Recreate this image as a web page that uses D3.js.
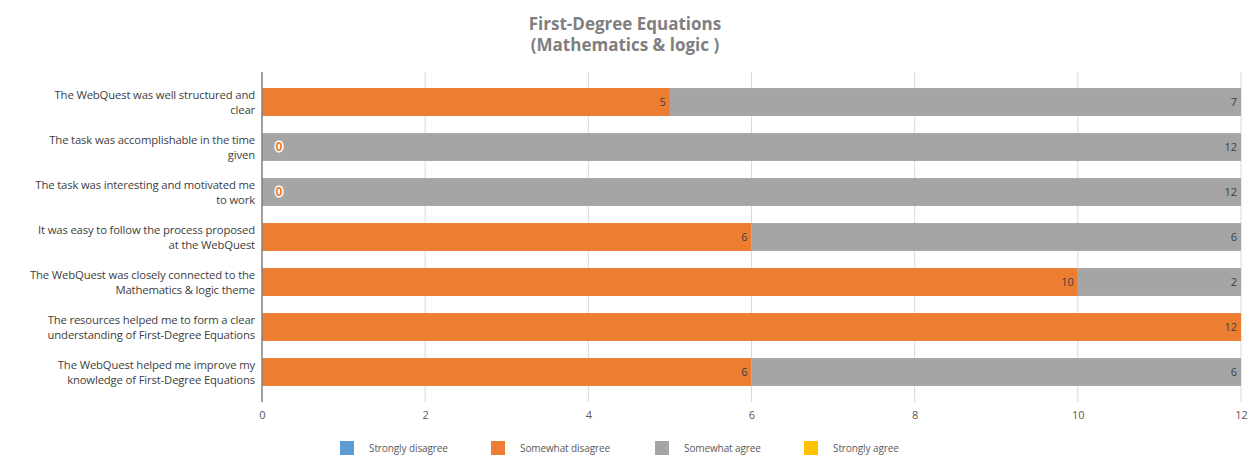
<!DOCTYPE html>
<html>
<head>
<meta charset="utf-8">
<script src="https://cdn.jsdelivr.net/npm/d3@7"></script>
<style>
  body { margin: 0; background: #fff; }
  svg text { font-family: "Open Sans", "Liberation Sans", sans-serif; }
</style>
</head>
<body>
<div id="chart"></div>
<script>
const categories = [
  ["The WebQuest was well structured and", "clear"],
  ["The task was accomplishable in the time", "given"],
  ["The task was interesting and motivated me", "to work"],
  ["It was easy to follow the process proposed", "at the WebQuest"],
  ["The WebQuest was closely connected to the", "Mathematics & logic theme"],
  ["The resources helped me to form a clear", "understanding of First-Degree Equations"],
  ["The WebQuest helped me improve my", "knowledge of First-Degree Equations"]
];
const seriesNames = ["Strongly disagree", "Somewhat disagree", "Somewhat agree", "Strongly agree"];
const stronglyDisagree = [0, 0, 0, 0, 0, 0, 0];
const somewhatDisagree = [5, 0, 0, 6, 10, 12, 6];
const somewhatAgree = [7, 12, 12, 6, 2, 0, 6];
const stronglyAgree = [0, 0, 0, 0, 0, 0, 0];
const xTicks = [0, 2, 4, 6, 8, 10, 12];

const colors = ["#5B9BD5", "#ED7D31", "#A5A5A5", "#FFC000"];

const width = 1248, height = 456;
const svg = d3.select("#chart").append("svg")
  .attr("width", width).attr("height", height);

const rows = categories.map((c, i) => ({
  key: i,
  "Strongly disagree": stronglyDisagree[i],
  "Somewhat disagree": somewhatDisagree[i],
  "Somewhat agree": somewhatAgree[i],
  "Strongly agree": stronglyAgree[i]
}));

const x = d3.scaleLinear().domain([0, 12]).range([262, 1241]);
const y = d3.scaleBand().domain(d3.range(categories.length))
  .range([79.5, 394.5]).paddingInner(0.38).paddingOuter(0.19);

// title
svg.append("text")
  .attr("x", 625).attr("y", 0)
  .attr("text-anchor", "middle")
  .attr("font-size", 17).attr("font-weight", "bold").attr("fill", "#7f7f7f")
  .selectAll("tspan")
  .data(["First-Degree Equations", "(Mathematics & logic )"])
  .join("tspan")
  .attr("x", 625)
  .attr("y", (d, i) => 30 + i * 21)
  .text(d => d);

// gridlines
svg.append("g").selectAll("line")
  .data(xTicks.slice(1))
  .join("line")
  .attr("x1", d => x(d)).attr("x2", d => x(d))
  .attr("y1", 72).attr("y2", 402)
  .attr("stroke", "#d9d9d9").attr("stroke-width", 1);

// stacked bars
const stack = d3.stack().keys(seriesNames)(rows);
svg.append("g").selectAll("g")
  .data(stack)
  .join("g")
  .attr("fill", (d, i) => colors[i])
  .selectAll("rect")
  .data(d => d)
  .join("rect")
  .attr("x", d => x(d[0]))
  .attr("y", (d, i) => y(i))
  .attr("width", d => x(d[1]) - x(d[0]))
  .attr("height", y.bandwidth());

// value labels (only the two series that have data)
const labelled = stack.filter(s => s.key === "Somewhat disagree" || s.key === "Somewhat agree");
labelled.forEach(s => {
  s.forEach((d, i) => {
    const v = d[1] - d[0];
    const cy = y(i) + y.bandwidth() / 2;
    if (v > 0) {
      svg.append("text")
        .attr("x", x(d[1]) - 4).attr("y", cy)
        .attr("dy", "0.35em").attr("text-anchor", "end")
        .attr("font-size", 11).attr("fill", "#404040")
        .text(v);
    } else if (s.key === "Somewhat disagree") {
      svg.append("text")
        .attr("x", x(d[0]) + 17).attr("y", cy)
        .attr("dy", "0.35em").attr("text-anchor", "middle")
        .attr("font-size", 12).attr("font-weight", "bold")
        .attr("fill", "#ED7D31")
        .attr("stroke", "#fff").attr("stroke-width", 3)
        .attr("paint-order", "stroke")
        .text(v);
    }
  });
});

// y axis line
svg.append("line")
  .attr("x1", x(0)).attr("x2", x(0))
  .attr("y1", 72).attr("y2", 402)
  .attr("stroke", "#7f7f7f").attr("stroke-width", 1.5);

// category labels
svg.append("g").selectAll("text")
  .data(categories)
  .join("text")
  .attr("text-anchor", "end")
  .attr("font-size", 11.3).attr("fill", "#404040")
  .attr("letter-spacing", -0.15)
  .each(function(d, i) {
    const cy = y(i) + y.bandwidth() / 2;
    d3.select(this).selectAll("tspan")
      .data(d)
      .join("tspan")
      .attr("x", 255)
      .attr("y", (t, j) => cy - 3 + j * 15)
      .text(t => t);
  });

// x axis tick labels
const xAxis = svg.append("g")
  .attr("transform", "translate(0,402)")
  .call(d3.axisBottom(x).tickValues(xTicks).tickSize(0).tickPadding(9));
xAxis.select(".domain").remove();
xAxis.selectAll("text")
  .attr("font-size", 11).attr("fill", "#595959")
  .style("font-family", "'Open Sans', 'Liberation Sans', sans-serif");

// legend
const legendX = [340, 491, 655, 804];
const legend = svg.append("g").selectAll("g")
  .data(seriesNames)
  .join("g")
  .attr("transform", (d, i) => `translate(${legendX[i]},441)`);
legend.append("rect")
  .attr("width", 14).attr("height", 14)
  .attr("fill", (d, i) => colors[i]);
legend.append("text")
  .attr("x", 29).attr("y", 7).attr("dy", "0.35em")
  .attr("font-size", 10).attr("fill", "#595959")
  .attr("letter-spacing", -0.1)
  .text(d => d);
</script>
</body>
</html>
